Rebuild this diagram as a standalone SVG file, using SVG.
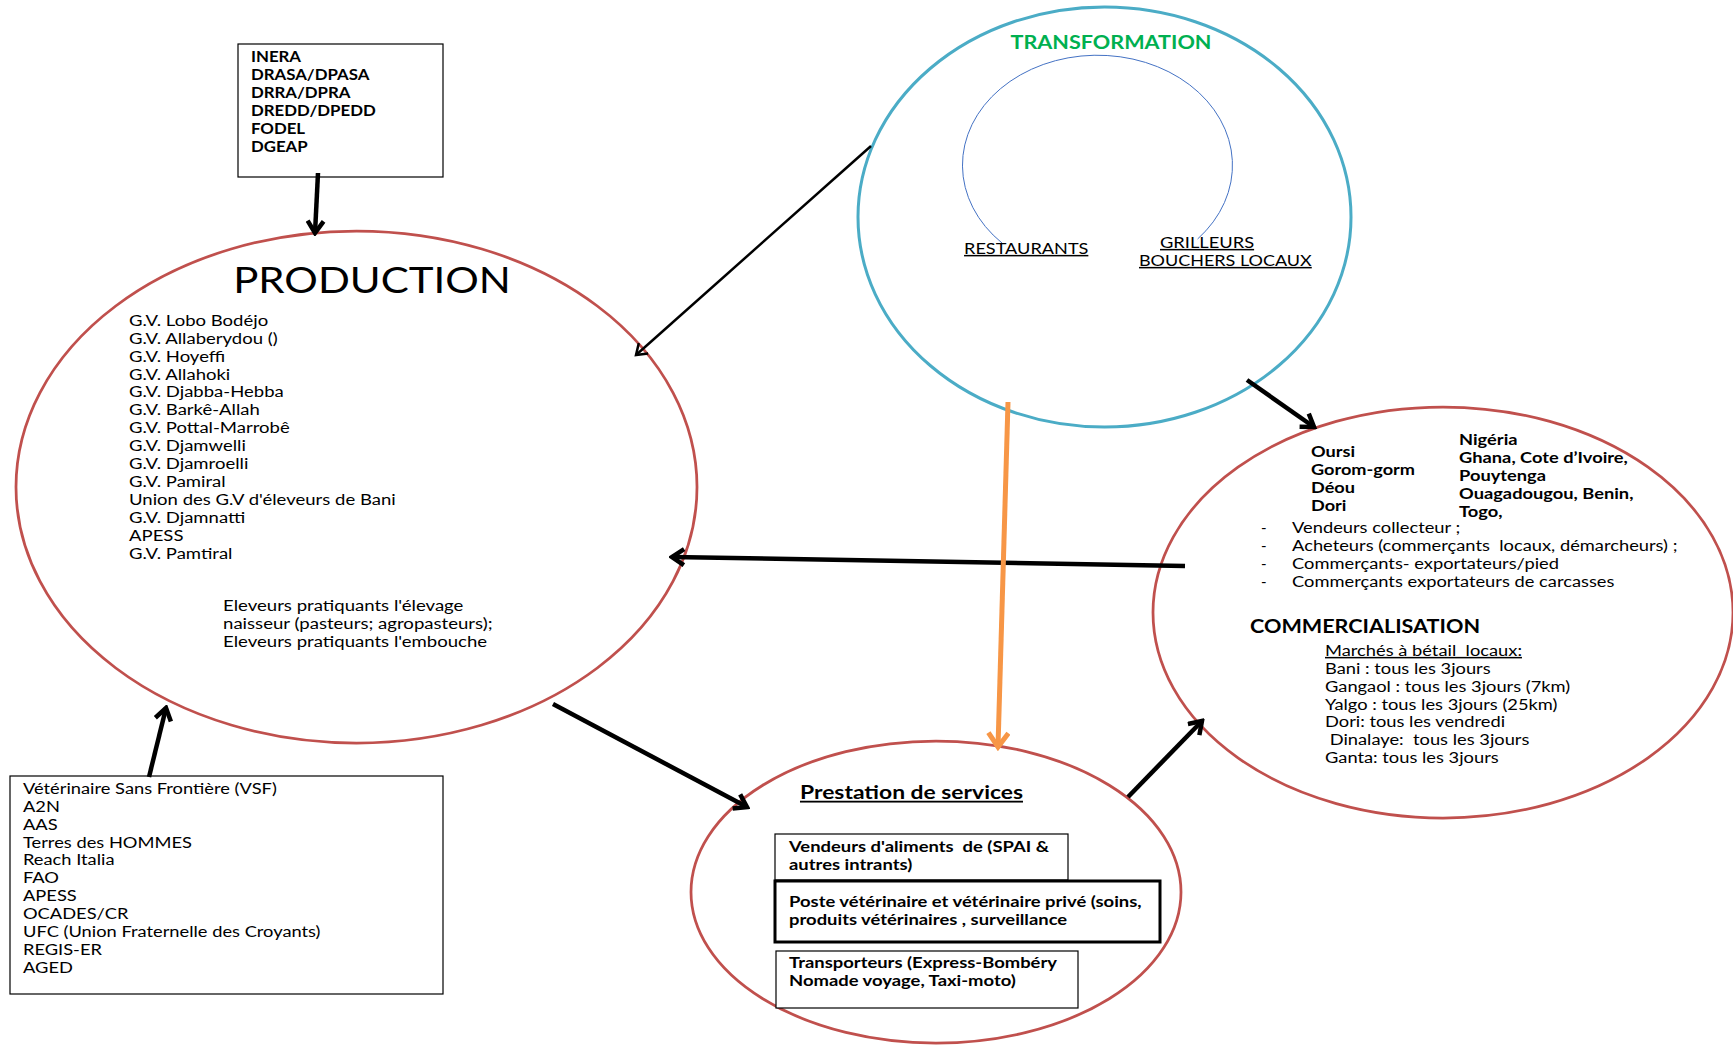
<svg xmlns="http://www.w3.org/2000/svg" width="1733" height="1045" viewBox="0 0 1733 1045">
  <style>
    text { font-family: Lato, "Liberation Sans", sans-serif; fill: #000; }
    .reg { font-size: 15px; }
    .bold { font-size: 14.5px; font-weight: bold; }
    .ul { text-decoration: underline; }
    .stage-red { fill: none; stroke: #C0504D; stroke-width: 2.75; }
    .stage-blue { fill: none; stroke: #4BACC6; stroke-width: 3; }
    .box { fill: #fff; stroke: #000; stroke-width: 1.2; }
    .box-thick { fill: #fff; stroke: #000; stroke-width: 3; }
    .link { fill: none; stroke: #000; stroke-width: 4.5; stroke-linecap: butt; }
    .link-thin { fill: none; stroke: #000; stroke-width: 2.5; }
    .link-orange { fill: none; stroke: #F79646; stroke-width: 5; }
  </style>
  <defs>
    <marker id="head" markerUnits="userSpaceOnUse" viewBox="0 0 20 20" refX="17" refY="10" markerWidth="20" markerHeight="20" orient="auto">
      <path d="M5,2 L17,10 L5,18" fill="none" stroke="#000" stroke-width="4.5" stroke-linejoin="miter"/>
    </marker>
    <marker id="head-thin" markerUnits="userSpaceOnUse" viewBox="0 0 20 20" refX="17" refY="10" markerWidth="20" markerHeight="20" orient="auto">
      <path d="M7,3 L17,10 L7,17" fill="none" stroke="#000" stroke-width="2.5"/>
    </marker>
    <marker id="head-orange" markerUnits="userSpaceOnUse" viewBox="0 0 24 24" refX="20" refY="12" markerWidth="24" markerHeight="24" orient="auto">
      <path d="M6,2 L20,12 L6,22" fill="none" stroke="#F79646" stroke-width="5"/>
    </marker>
  </defs>

  <rect width="1733" height="1045" fill="#fff"/>

  <!-- Production stage (text is set wide: each block is stretched about its left edge) -->
  <g id="production">
    <ellipse class="stage-red" cx="356.5" cy="487" rx="340.5" ry="256"/>
    <text x="372" y="293" text-anchor="middle" font-size="36" transform="matrix(1.165 0 0 1 -61.4 0)">PRODUCTION</text>
    <g class="reg" transform="matrix(1.235 0 0 1 -30.3 0)">
      <text x="129" y="326">G.V. Lobo Bodéjo</text>
      <text x="129" y="344">G.V. Allaberydou ()</text>
      <text x="129" y="362">G.V. Hoyeffi</text>
      <text x="129" y="380">G.V. Allahoki</text>
      <text x="129" y="397.5">G.V. Djabba-Hebba</text>
      <text x="129" y="415.5">G.V. Barkê-Allah</text>
      <text x="129" y="433.5">G.V. Pottal-Marrobê</text>
      <text x="129" y="451.5">G.V. Djamwelli</text>
      <text x="129" y="469">G.V. Djamroelli</text>
      <text x="129" y="487">G.V. Pamiral</text>
      <text x="129" y="505">Union des G.V d'éleveurs de Bani</text>
      <text x="129" y="523">G.V. Djamnatti</text>
      <text x="129" y="541">APESS</text>
      <text x="129" y="559">G.V. Pamtiral</text>
    </g>
    <g class="reg" transform="matrix(1.24 0 0 1 -53.5 0)">
      <text x="223" y="611">Eleveurs pratiquants l'élevage</text>
      <text x="223" y="629">naisseur (pasteurs; agropasteurs);</text>
      <text x="223" y="647">Eleveurs pratiquants l'embouche</text>
    </g>
  </g>

  <!-- Research and public support services -->
  <g id="services-publics">
    <rect class="box" x="238" y="44" width="205" height="133"/>
    <g class="bold" transform="matrix(1.16 0 0 1 -40.2 0)">
      <text x="251" y="62.5">INERA</text>
      <text x="251" y="80.5">DRASA/DPASA</text>
      <text x="251" y="98.5">DRRA/DPRA</text>
      <text x="251" y="116.5">DREDD/DPEDD</text>
      <text x="251" y="134">FODEL</text>
      <text x="251" y="152">DGEAP</text>
    </g>
  </g>

  <!-- Partner organisations -->
  <g id="partenaires">
    <rect class="box" x="10" y="776" width="433" height="218"/>
    <g class="reg" transform="matrix(1.22 0 0 1 -5.06 0)">
      <text x="23" y="794">Vétérinaire Sans Frontière (VSF)</text>
      <text x="23" y="812">A2N</text>
      <text x="23" y="830">AAS</text>
      <text x="23" y="848">Terres des HOMMES</text>
      <text x="23" y="865.5">Reach Italia</text>
      <text x="23" y="883.5">FAO</text>
      <text x="23" y="901.5">APESS</text>
      <text x="23" y="919.5">OCADES/CR</text>
      <text x="23" y="937.5">UFC (Union Fraternelle des Croyants)</text>
      <text x="23" y="955.5">REGIS-ER</text>
      <text x="23" y="973">AGED</text>
    </g>
  </g>

  <!-- Processing stage -->
  <g id="transformation">
    <ellipse class="stage-blue" cx="1104.5" cy="217" rx="246.5" ry="210"/>
    <path d="M1002,243 A135,110 0 1 1 1197.6,239" fill="none" stroke="#4472C4" stroke-width="1"/>
    <text x="1111" y="49" text-anchor="middle" font-size="18" font-weight="bold" style="fill:#00B050" transform="matrix(1.2 0 0 1 -222.2 0)">TRANSFORMATION</text>
    <text class="reg ul" x="964" y="254" font-size="15.5" transform="matrix(1.21 0 0 1 -202.4 0)">RESTAURANTS</text>
    <text class="reg ul" x="1160" y="248" font-size="15.5" transform="matrix(1.22 0 0 1 -255.2 0)">GRILLEURS</text>
    <text class="reg ul" x="1139" y="266" font-size="15.5" transform="matrix(1.2 0 0 1 -227.8 0)">BOUCHERS LOCAUX</text>
  </g>

  <!-- Marketing stage -->
  <g id="commercialisation">
    <ellipse class="stage-red" cx="1443" cy="612.5" rx="290" ry="205.5"/>
    <g class="bold" transform="matrix(1.25 0 0 1 -327.75 0)">
      <text x="1311" y="457">Oursi</text>
      <text x="1311" y="475">Gorom-gorm</text>
      <text x="1311" y="493">Déou</text>
      <text x="1311" y="511">Dori</text>
    </g>
    <g class="bold" transform="matrix(1.26 0 0 1 -379.3 0)">
      <text x="1459" y="445">Nigéria</text>
      <text x="1459" y="463">Ghana, Cote d’Ivoire,</text>
      <text x="1459" y="481">Pouytenga</text>
      <text x="1459" y="499">Ouagadougou, Benin,</text>
      <text x="1459" y="517">Togo,</text>
    </g>
    <g class="reg">
      <text x="1261" y="533">-</text>
      <text x="1261" y="551">-</text>
      <text x="1261" y="569">-</text>
      <text x="1261" y="587">-</text>
    </g>
    <g class="reg" transform="matrix(1.22 0 0 1 -284.2 0)">
      <text x="1292" y="533">Vendeurs collecteur ;</text>
      <text x="1292" y="551" xml:space="preserve">Acheteurs (commerçants  locaux, démarcheurs) ;</text>
      <text x="1292" y="569">Commerçants- exportateurs/pied</text>
      <text x="1292" y="587">Commerçants exportateurs de carcasses</text>
    </g>
    <text x="1250" y="633" font-size="18" font-weight="bold" transform="matrix(1.2 0 0 1 -250 0)">COMMERCIALISATION</text>
    <g class="reg" transform="matrix(1.22 0 0 1 -291.5 0)">
      <text class="ul" x="1325" y="656" xml:space="preserve">Marchés à bétail  locaux:</text>
      <text x="1325" y="674">Bani : tous les 3jours</text>
      <text x="1325" y="692">Gangaol : tous les 3jours (7km)</text>
      <text x="1325" y="710">Yalgo : tous les 3jours (25km)</text>
      <text x="1325" y="727.5">Dori: tous les vendredi</text>
      <text x="1325" y="745.5" xml:space="preserve"> Dinalaye:  tous les 3jours</text>
      <text x="1325" y="763">Ganta: tous les 3jours</text>
    </g>
  </g>

  <!-- Service providers -->
  <g id="prestation">
    <ellipse class="stage-red" cx="936" cy="892" rx="245" ry="151"/>
    <text class="ul" x="800" y="799" font-size="18" font-weight="bold" transform="matrix(1.27 0 0 1 -216 0)">Prestation de services</text>
    <rect class="box" x="775" y="834" width="293" height="46"/>
    <rect class="box-thick" x="775" y="881" width="385" height="61"/>
    <rect class="box" x="776" y="951" width="302" height="57"/>
    <g class="bold" transform="matrix(1.27 0 0 1 -213 0)">
      <text x="789" y="852.5" xml:space="preserve">Vendeurs d'aliments  de (SPAI &amp;</text>
      <text x="789" y="870.5">autres intrants)</text>
      <text x="789" y="907">Poste vétérinaire et vétérinaire privé (soins,</text>
      <text x="789" y="925">produits vétérinaires , surveillance</text>
      <text x="789" y="968">Transporteurs (Express-Bombéry</text>
      <text x="789" y="986">Nomade voyage, Taxi-moto)</text>
    </g>
  </g>

  <!-- Flows between stages -->
  <g id="connectors">
    <line class="link" x1="318" y1="173" x2="315" y2="233" marker-end="url(#head)"/>
    <line class="link" x1="149" y1="777" x2="166" y2="708" marker-end="url(#head)"/>
    <line class="link-thin" x1="871" y1="146" x2="636" y2="355" marker-end="url(#head-thin)"/>
    <line class="link" x1="1185" y1="566" x2="672" y2="557" marker-end="url(#head)"/>
    <line class="link" x1="1247" y1="380" x2="1314" y2="427" marker-end="url(#head)"/>
    <line class="link-orange" x1="1008" y1="402" x2="998" y2="747" marker-end="url(#head-orange)"/>
    <line class="link" x1="553" y1="704" x2="747" y2="807" marker-end="url(#head)"/>
    <line class="link" x1="1128" y1="797" x2="1202" y2="721" marker-end="url(#head)"/>
  </g>
</svg>
